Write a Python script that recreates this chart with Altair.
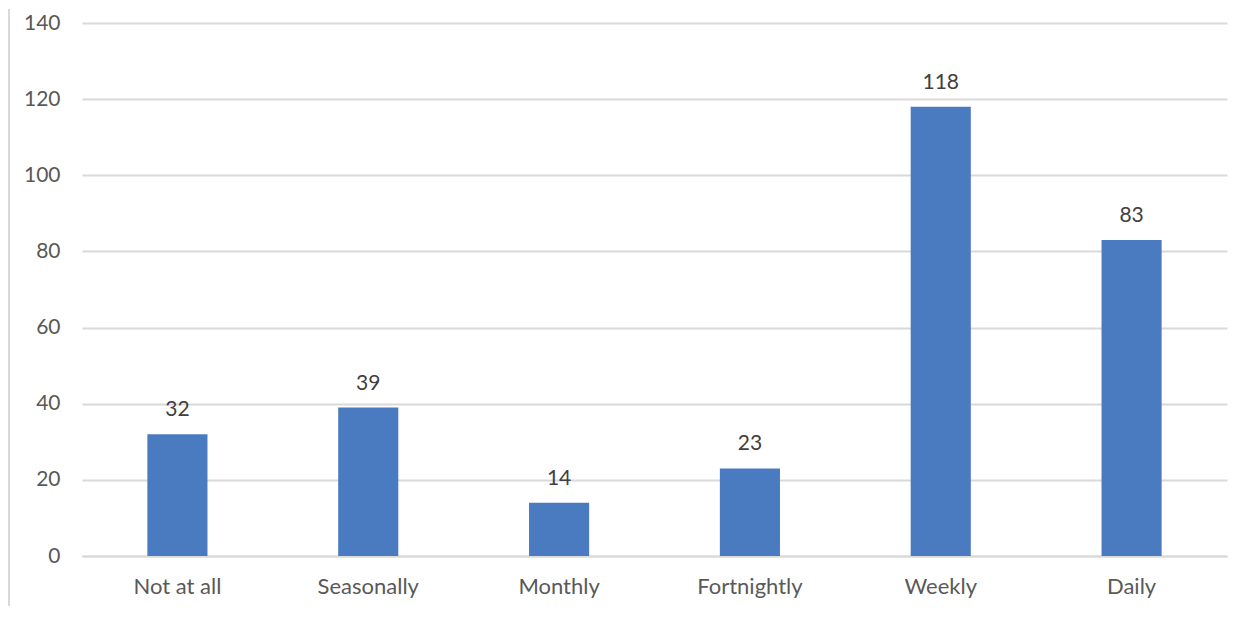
import altair as alt
import pandas as pd

categories = ["Not at all", "Seasonally", "Monthly", "Fortnightly", "Weekly", "Daily"]
values = [32, 39, 14, 23, 118, 83]
y_ticks = [0, 20, 40, 60, 80, 100, 120, 140]

df = pd.DataFrame({"category": categories, "value": values})

FONT = "Lato"
LABEL_COLOR = "#595959"

x = alt.X("category:N", sort=categories, title=None,
          scale=alt.Scale(paddingInner=0.685, paddingOuter=0.3425),
          axis=alt.Axis(labelAngle=0, labelFont=FONT, labelFontSize=22, labelColor=LABEL_COLOR,
                        labelPadding=20, ticks=False, domain=True, domainColor="#D9D9D9",
                        domainWidth=2, grid=False))
y = alt.Y("value:Q", title=None,
          scale=alt.Scale(domain=[0, 140], nice=False),
          axis=alt.Axis(values=y_ticks, labelFont=FONT, labelFontSize=21, labelColor=LABEL_COLOR,
                        labelPadding=22, ticks=False, domain=False, grid=True,
                        gridColor="#D9D9D9", gridWidth=2))

bars = alt.Chart(df).mark_bar(color="#4A7BC0").encode(x=x, y=y)
labels = alt.Chart(df).mark_text(font=FONT, fontSize=21, color="#404040", dy=-18,
                                 baseline="alphabetic").encode(
    x=alt.X("category:N", sort=categories), y="value:Q", text="value:Q")

edge = alt.Chart(pd.DataFrame({"v": [0]})).mark_rule(color="#D9D9D9", strokeWidth=2).encode(
    x=alt.value(-73), y=alt.value(-14), y2=alt.value(586))

chart = alt.layer(edge, bars, labels).properties(
    width=1145, height=533,
    autosize=alt.AutoSizeParams(type="none"),
    padding={"left": 74, "top": 15, "right": 20, "bottom": 50},
).configure_view(stroke=None, clip=False)

chart.save("out.html", embed_options={"renderer": "svg", "actions": False})
